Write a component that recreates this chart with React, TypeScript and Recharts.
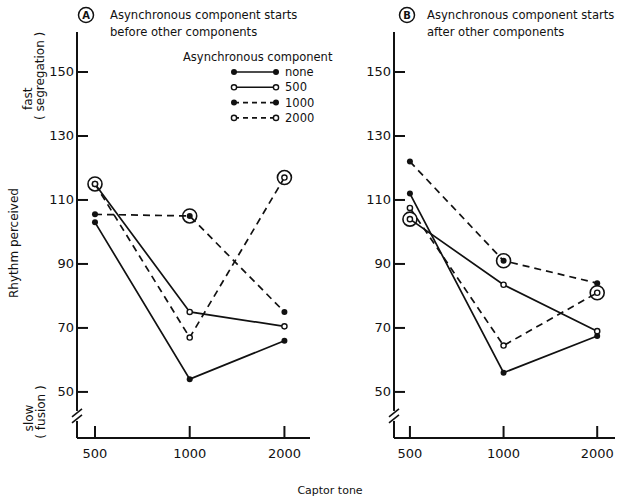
import React from 'react'
import { LineChart, Line, XAxis, YAxis, ReferenceDot } from 'recharts'

// captor tone categories (x) and rhythm ticks (y)
const captorTones = ['500', '1000', '2000']
const yTicks = [50, 70, 90, 110, 130, 150]
const seriesNames = ['none', '500', '1000', '2000']

// A: asynchronous component starts before other components
const aNone = [103, 54, 66]
const a500 = [115, 75, 70.5]
const a1000 = [105.5, 105, 75]
const a2000 = [115, 67, 117]

// B: asynchronous component starts after other components
const bNone = [112, 56, 67.5]
const b500 = [104, 83.5, 69]
const b1000 = [122, 91, 84]
const b2000 = [107.5, 64.5, 81]

// circled points: [series, captor tone index]
const ringedA: [string, number][] = [['2000', 0], ['1000', 1], ['2000', 2]]
const ringedB: [string, number][] = [['500', 0], ['1000', 1], ['2000', 2]]

const INK = '#111'
const FONT = 'DejaVu Sans'
const Y_DOMAIN = [35.6, 162.5]

const lineStyle: Record<string, { dash?: string; filled: boolean }> = {
  none: { filled: true },
  '500': { filled: false },
  '1000': { dash: '7 5', filled: true },
  '2000': { dash: '7 5', filled: false },
}

const buildRows = (cols: number[][]) =>
  captorTones.map((_, i) => {
    const row: any = { x: i }
    seriesNames.forEach((name, s) => {
      row[name] = cols[s][i]
    })
    return row
  })

const dataA = buildRows([aNone, a500, a1000, a2000])
const dataB = buildRows([bNone, b500, b1000, b2000])

const Marker = ({ cx, cy, filled, ring }: any) => {
  if (cx == null || cy == null) return null
  return (
    <g>
      {ring && <circle cx={cx} cy={cy} r={7} fill="none" stroke={INK} strokeWidth={1.6} />}
      {filled ? (
        <circle cx={cx} cy={cy} r={3} fill={INK} />
      ) : (
        <circle cx={cx} cy={cy} r={2.6} fill="#fff" stroke={INK} strokeWidth={1.4} />
      )}
    </g>
  )
}

const YTick = ({ x, y, payload }: any) => (
  <g>
    <line x1={x} x2={x + 11} y1={y} y2={y} stroke={INK} strokeWidth={2} />
    <text x={x - 3} y={y} textAnchor="end" dominantBaseline="central" fontSize={13} fontFamily={FONT} fill={INK}>
      {payload.value}
    </text>
  </g>
)

const XTick = ({ x, y, payload }: any) => (
  <g>
    <line x1={x} x2={x} y1={y} y2={y - 12} stroke={INK} strokeWidth={2} />
    <text x={x} y={y + 15} textAnchor="middle" dominantBaseline="central" fontSize={13} fontFamily={FONT} fill={INK}>
      {captorTones[payload.value]}
    </text>
  </g>
)

const AxisBreak = ({ cx, cy }: any) => (
  <g>
    <rect x={cx - 4} y={cy - 5} width={8} height={10} fill="#fff" />
    <line x1={cx - 5} y1={cy + 1} x2={cx + 5} y2={cy - 7} stroke={INK} strokeWidth={1.6} />
    <line x1={cx - 5} y1={cy + 7} x2={cx + 5} y2={cy - 1} stroke={INK} strokeWidth={1.6} />
  </g>
)

const Panel = ({ data, ringed, left, width, yAxisWidth, right, xDomain }: any) => (
  <div style={{ position: 'absolute', left, top: 0 }}>
    <LineChart width={width} height={500} data={data} margin={{ top: 32, right, bottom: 0, left: 0 }}>
      <XAxis
        type="number"
        dataKey="x"
        domain={xDomain}
        ticks={[0, 1, 2]}
        allowDataOverflow
        height={62}
        tickSize={0}
        tickMargin={0}
        tickLine={false}
        axisLine={{ stroke: INK, strokeWidth: 2 }}
        tick={<XTick />}
      />
      <YAxis
        type="number"
        domain={Y_DOMAIN}
        ticks={yTicks}
        allowDataOverflow
        width={yAxisWidth}
        tickSize={0}
        tickMargin={0}
        tickLine={false}
        axisLine={{ stroke: INK, strokeWidth: 2 }}
        tick={<YTick />}
      />
      {seriesNames.map(name => (
        <Line
          key={name}
          dataKey={name}
          type="linear"
          stroke={INK}
          strokeWidth={1.7}
          strokeDasharray={lineStyle[name].dash}
          isAnimationActive={false}
          dot={(p: any) => (
            <Marker
              key={`${name}-${p.index}`}
              cx={p.cx}
              cy={p.cy}
              filled={lineStyle[name].filled}
              ring={ringed.some(([s, i]: [string, number]) => s === name && i === p.index)}
            />
          )}
          activeDot={false}
        />
      ))}
      <ReferenceDot x={xDomain[0]} y={42.5} r={0} ifOverflow="visible" shape={<AxisBreak />} />
    </LineChart>
  </div>
)

const Circled = ({ x, y, letter }: any) => (
  <g>
    <circle cx={x} cy={y} r={7.5} fill="none" stroke={INK} strokeWidth={1.5} />
    <text x={x} y={y + 0.5} textAnchor="middle" dominantBaseline="central" fontSize={10} fontWeight="bold" fontFamily={FONT} fill={INK}>
      {letter}
    </text>
  </g>
)

const textProps = { fontFamily: FONT, fill: INK, fontSize: 12 }

const Overlay = () => (
  <svg width={618} height={500} style={{ position: 'absolute', left: 0, top: 0, pointerEvents: 'none' }}>
    <Circled x={86} y={15} letter="A" />
    <text x={110} y={15} dominantBaseline="central" {...textProps} fontSize={11.6}>Asynchronous component starts</text>
    <text x={110} y={32} dominantBaseline="central" {...textProps} fontSize={11.6}>before other components</text>
    <Circled x={407} y={15} letter="B" />
    <text x={427} y={15} dominantBaseline="central" {...textProps} fontSize={11.6}>Asynchronous component starts</text>
    <text x={427} y={32} dominantBaseline="central" {...textProps} fontSize={11.6}>after other components</text>

    <text x={183} y={57} dominantBaseline="central" {...textProps} fontSize={11.5}>Asynchronous component</text>
    {seriesNames.map((name, i) => {
      const y = 72 + i * 15.3
      const st = lineStyle[name]
      return (
        <g key={name}>
          <line x1={234} x2={276} y1={y} y2={y} stroke={INK} strokeWidth={1.6} strokeDasharray={st.dash ? '5 4' : undefined} />
          <Marker cx={234} cy={y} filled={st.filled} />
          <Marker cx={276} cy={y} filled={st.filled} />
          <text x={285} y={y} dominantBaseline="central" {...textProps} fontSize={11.5}>{name}</text>
        </g>
      )
    })}

    <text transform="translate(14,243) rotate(-90)" textAnchor="middle" dominantBaseline="central" {...textProps}>Rhythm perceived</text>
    <text transform="translate(28,110) rotate(-90)" textAnchor="start" dominantBaseline="central" {...textProps}>fast</text>
    <text transform="translate(40,120) rotate(-90)" textAnchor="start" dominantBaseline="central" {...textProps}>( segregation )</text>
    <text transform="translate(29,418) rotate(-90)" textAnchor="middle" dominantBaseline="central" {...textProps}>slow</text>
    <text transform="translate(41,412) rotate(-90)" textAnchor="middle" dominantBaseline="central" {...textProps}>( fusion )</text>
    <text x={330} y={490} textAnchor="middle" dominantBaseline="central" {...textProps} fontSize={11}>Captor tone</text>
  </svg>
)

export default function App() {
  return (
    <div style={{ position: 'absolute', left: 0, top: 0, width: 618, height: 500, background: '#fff', fontFamily: FONT }}>
      <Panel data={dataA} ringed={ringedA} left={0} width={318} yAxisWidth={77} right={8} xDomain={[-0.19, 2.27]} />
      <Panel data={dataB} ringed={ringedB} left={318} width={300} yAxisWidth={76} right={3} xDomain={[-0.17, 2.19]} />
      <Overlay />
    </div>
  )
}
